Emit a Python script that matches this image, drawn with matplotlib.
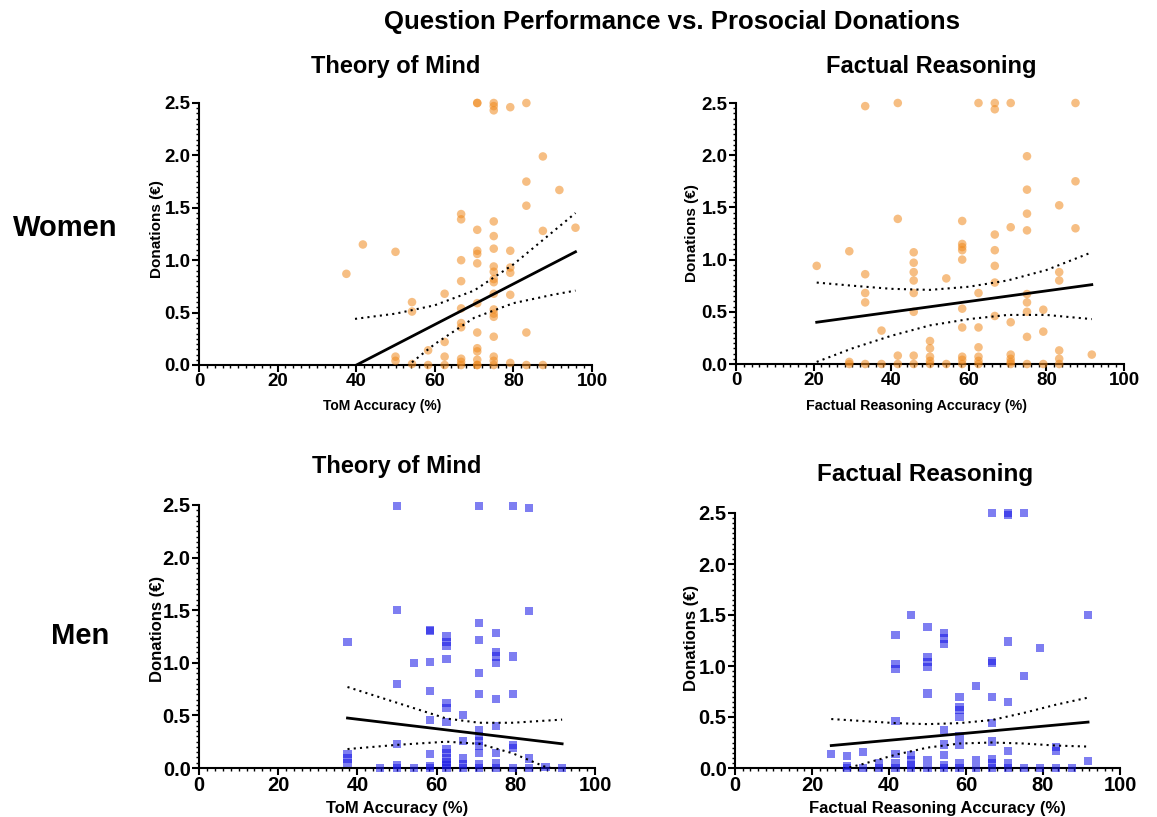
import numpy as np
import matplotlib.pyplot as plt
from matplotlib.ticker import MultipleLocator

plt.rcParams['font.family'] = ['Liberation Sans', 'DejaVu Sans']
plt.rcParams['font.weight'] = 'bold'

# Accuracy columns (%) and the donations found in each column
women_tom_cols = [37.5, 41.7, 50, 54.2, 58.3, 62.5, 66.7, 70.8, 75, 79.2, 83.3, 87.5, 91.7, 95.8]
women_tom_vals = [
    [0.87], [1.15], [1.08, 0.08, 0.04], [0.60, 0.51, 0.01], [0.14, 0],
    [0.68, 0.22, 0.08, 0],
    [1.44, 1.39, 1.0, 0.80, 0.54, 0.40, 0.36, 0.06, 0.03, 0],
    [2.5, 2.5, 1.29, 1.09, 1.06, 0.97, 0.59, 0.31, 0.16, 0.13, 0.05, 0, 0],
    [2.5, 2.47, 2.43, 1.37, 1.23, 1.11, 0.94, 0.89, 0.82, 0.79, 0.68, 0.53, 0.49, 0.46, 0.27, 0.08, 0.04, 0],
    [2.46, 1.09, 0.93, 0.88, 0.67, 0.02], [2.5, 1.75, 1.52, 0.31, 0],
    [1.99, 1.28, 0], [1.67], [1.31],
]

women_fr_cols = [20.8, 29.2, 33.3, 37.5, 41.7, 45.8, 50, 54.2, 58.3, 62.5, 66.7, 70.8, 75, 79.2, 83.3, 87.5, 91.7]
women_fr_vals = [
    [0.94], [1.08, 0.02, 0], [2.47, 0.86, 0.68, 0.59, 0], [0.32, 0],
    [2.5, 1.39, 0.08, 0], [1.07, 0.97, 0.88, 0.80, 0.68, 0.50, 0.08, 0],
    [0.22, 0.15, 0.07, 0.03, 0], [0.82, 0],
    [1.37, 1.15, 1.12, 1.09, 1.0, 0.53, 0.35, 0.07, 0.04, 0],
    [2.5, 0.68, 0.35, 0.16, 0.07, 0.03, 0],
    [2.5, 2.44, 1.24, 1.09, 0.94, 0.78, 0.46],
    [2.5, 1.31, 0.40, 0.09, 0.05, 0.02, 0],
    [1.99, 1.67, 1.44, 1.28, 0.67, 0.59, 0.50, 0.26, 0],
    [0.52, 0.31, 0], [1.52, 0.88, 0.80, 0.13, 0.05, 0], [2.5, 1.75, 1.30], [0.09],
]

men_tom_cols = [37.5, 45.8, 50, 54.2, 58.3, 62.5, 66.7, 70.8, 75, 79.2, 83.3, 87.5, 91.7]
men_tom_vals = [
    [1.20, 0.13, 0.09, 0.05], [0], [2.49, 1.50, 0.80, 0.23, 0.03, 0], [1.0, 0],
    [1.31, 1.30, 1.01, 0.73, 0.46, 0.13, 0.02, 0],
    [1.25, 1.20, 1.16, 1.04, 0.62, 0.57, 0.44, 0.18, 0.14, 0.09, 0.06, 0.03, 0],
    [0.50, 0.26, 0.09, 0.04, 0],
    [2.49, 1.38, 1.22, 0.90, 0.70, 0.36, 0.30, 0.26, 0.21, 0.14, 0.04, 0],
    [1.28, 1.10, 1.06, 1.0, 0.66, 0.40, 0.14, 0.05, 0],
    [2.49, 1.06, 0.70, 0.22, 0.19, 0], [2.47, 1.49, 0.09, 0], [0.01], [0],
]

men_fr_cols = [25, 29.2, 33.3, 37.5, 41.7, 45.8, 50, 54.2, 58.3, 62.5, 66.7, 70.8, 75, 79.2, 83.3, 87.5, 91.7]
men_fr_vals = [
    [0.14], [0.12, 0.02, 0], [0.16, 0], [0.05, 0],
    [1.30, 1.02, 0.97, 0.46, 0.14, 0.05, 0], [1.50, 0.13, 0.08, 0.03, 0],
    [1.38, 1.09, 1.04, 0.99, 0.73, 0.08, 0],
    [1.32, 1.27, 1.22, 0.37, 0.23, 0.13, 0.03, 0],
    [0.70, 0.60, 0.57, 0.50, 0.31, 0.23, 0.05, 0], [0.80, 0.08, 0],
    [2.50, 1.05, 1.03, 0.70, 0.44, 0.26, 0.09, 0.05, 0],
    [2.50, 2.48, 1.24, 0.65, 0.17, 0.05, 0], [2.50, 0.90, 0], [1.18, 0],
    [0.21, 0.17, 0], [0], [1.50, 0.07],
]

# Regression lines (end points) and 95% confidence bands
women_tom_fit_x = [37.5, 95.8]
women_tom_fit_y = [-0.05, 1.08]
women_tom_band_x = [39.7, 50, 55, 60, 70, 80, 90, 95.8]
women_tom_band_hi = [0.44, 0.49, 0.53, 0.57, 0.71, 0.96, 1.27, 1.45]
women_tom_band_lo = [-0.44, -0.10, 0.05, 0.20, 0.45, 0.59, 0.67, 0.71]

women_fr_fit_x = [20.8, 91.7]
women_fr_fit_y = [0.40, 0.76]
women_fr_band_x = [20.8, 30, 40, 50, 60, 70, 80, 91.7]
women_fr_band_hi = [0.78, 0.75, 0.72, 0.71, 0.74, 0.80, 0.90, 1.07]
women_fr_band_lo = [0.02, 0.15, 0.27, 0.37, 0.43, 0.47, 0.47, 0.43]

men_tom_fit_x = [37.5, 91.7]
men_tom_fit_y = [0.475, 0.23]
men_tom_band_x = [37.5, 50, 62.5, 70.8, 79.2, 87.5, 91.7]
men_tom_band_hi = [0.77, 0.62, 0.47, 0.43, 0.43, 0.45, 0.46]
men_tom_band_lo = [0.18, 0.22, 0.25, 0.23, 0.14, 0.01, -0.02]

men_fr_fit_x = [25, 91.7]
men_fr_fit_y = [0.22, 0.45]
men_fr_band_x = [25, 33.3, 41.7, 50, 58.3, 66.7, 75, 83.3, 91.7]
men_fr_band_hi = [0.48, 0.46, 0.44, 0.43, 0.44, 0.47, 0.54, 0.62, 0.69]
men_fr_band_lo = [-0.04, 0.04, 0.13, 0.20, 0.24, 0.25, 0.24, 0.22, 0.21]

W, H = 1157, 817
fig = plt.figure(figsize=(W / 100, H / 100), dpi=100)


def px_axes(x0, x1, y0, y1):
    # pixel box (left, right, top, bottom) -> figure axes
    return fig.add_axes([x0 / W, 1 - y1 / H, (x1 - x0) / W, (y1 - y0) / H])


def flatten(cols, vals):
    xs, ys = [], []
    for c, v in zip(cols, vals):
        xs += [c] * len(v)
        ys += v
    return np.array(xs), np.array(ys)


def panel(ax, cols, vals, fit_x, fit_y, bx, bhi, blo, marker, color, xlabel,
          fs, xfs, yfs, xl_pos, yl_pos):
    x, y = flatten(cols, vals)
    ax.scatter(x, y, marker=marker, s=38 if marker == 'o' else 34, color=color,
               alpha=0.55, edgecolors='none', clip_on=False, zorder=3)
    ax.plot(fit_x, fit_y, color='black', lw=2, zorder=4)
    ax.plot(bx, bhi, color='black', lw=1.5, ls=(0, (1, 2)), zorder=4)
    ax.plot(bx, blo, color='black', lw=1.5, ls=(0, (1, 2)), zorder=4)
    ax.set_xlim(0, 100)
    ax.set_ylim(0, 2.5)
    ax.xaxis.set_major_locator(MultipleLocator(20))
    ax.xaxis.set_minor_locator(MultipleLocator(2))
    ax.yaxis.set_major_locator(MultipleLocator(0.5))
    ax.yaxis.set_minor_locator(MultipleLocator(0.05))
    ax.yaxis.set_major_formatter(plt.FormatStrFormatter('%.1f'))
    for s in ['top', 'right']:
        ax.spines[s].set_visible(False)
    for s in ['left', 'bottom']:
        ax.spines[s].set_linewidth(1.5)
    ax.tick_params(which='major', length=5, width=1.5, labelsize=fs, pad=1)
    ax.tick_params(which='minor', length=2.5, width=1)
    for lab in ax.get_xticklabels() + ax.get_yticklabels():
        lab.set_fontweight('bold')
    ax.set_xlabel(xlabel, fontsize=xfs, fontweight='bold')
    ax.set_ylabel('Donations (€)', fontsize=yfs, fontweight='bold')
    ax.xaxis.set_label_coords(xl_pos[0], xl_pos[1])
    ax.yaxis.set_label_coords(yl_pos[0], yl_pos[1])


orange = '#F08A1E'
blue = '#1515E6'

ax1 = px_axes(199, 592, 103, 365)
panel(ax1, women_tom_cols, women_tom_vals, women_tom_fit_x, women_tom_fit_y,
      women_tom_band_x, women_tom_band_hi, women_tom_band_lo, 'o', orange,
      'ToM Accuracy (%)', 13.5, 10, 11, (0.465, -0.13), (-0.089, 0.52))

ax2 = px_axes(736, 1124, 103, 364)
panel(ax2, women_fr_cols, women_fr_vals, women_fr_fit_x, women_fr_fit_y,
      women_fr_band_x, women_fr_band_hi, women_fr_band_lo, 'o', orange,
      'Factual Reasoning Accuracy (%)', 13.5, 10.3, 11, (0.465, -0.134), (-0.095, 0.5))

ax3 = px_axes(199, 595, 505, 768)
panel(ax3, men_tom_cols, men_tom_vals, men_tom_fit_x, men_tom_fit_y,
      men_tom_band_x, men_tom_band_hi, men_tom_band_lo, 's', blue,
      'ToM Accuracy (%)', 14.5, 12, 12, (0.5, -0.125), (-0.087, 0.53))

ax4 = px_axes(735, 1120, 513, 768)
panel(ax4, men_fr_cols, men_fr_vals, men_fr_fit_x, men_fr_fit_y,
      men_fr_band_x, men_fr_band_hi, men_fr_band_lo, 's', blue,
      'Factual Reasoning Accuracy (%)', 14.5, 12, 12, (0.525, -0.128), (-0.094, 0.51))

fig.text(672 / W, 1 - 22 / H, 'Question Performance vs. Prosocial Donations',
         ha='center', va='center', fontsize=18.5, fontweight='bold')
fig.text(396 / W, 1 - 66 / H, 'Theory of Mind', ha='center', va='center', fontsize=17, fontweight='bold')
fig.text(931 / W, 1 - 66 / H, 'Factual Reasoning', ha='center', va='center', fontsize=17, fontweight='bold')
fig.text(397 / W, 1 - 467 / H, 'Theory of Mind', ha='center', va='center', fontsize=17, fontweight='bold')
fig.text(925 / W, 1 - 475 / H, 'Factual Reasoning', ha='center', va='center', fontsize=17.5, fontweight='bold')
fig.text(65 / W, 1 - 228 / H, 'Women', ha='center', va='center', fontsize=21, fontweight='bold')
fig.text(80 / W, 1 - 636 / H, 'Men', ha='center', va='center', fontsize=21, fontweight='bold')

fig.savefig('out.png', dpi=100)
